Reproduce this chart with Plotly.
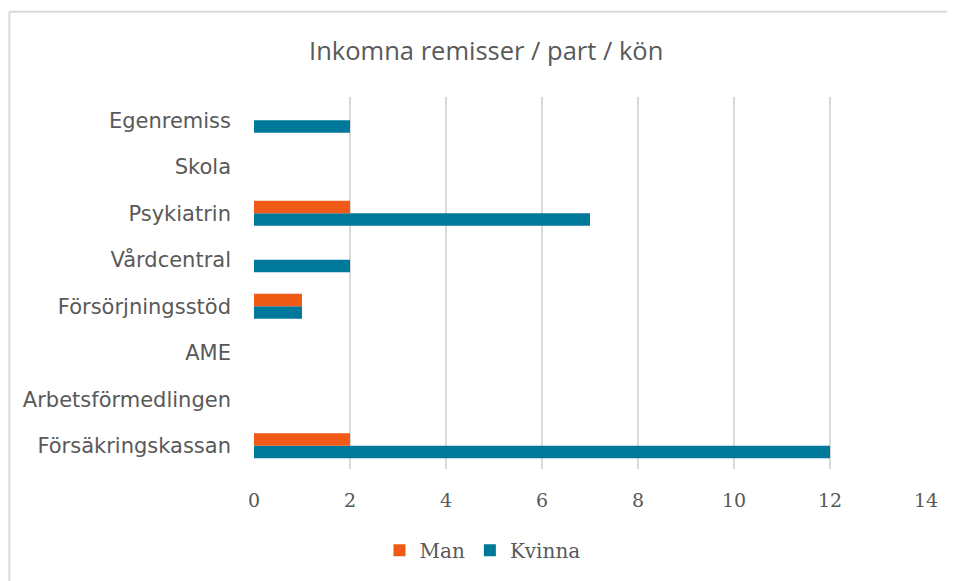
import plotly.graph_objects as go

# Data
kategorier = ['Försäkringskassan', 'Arbetsförmedlingen', 'AME', 'Försörjningsstöd',
              'Vårdcentral', 'Psykiatrin', 'Skola', 'Egenremiss']
man = [2, 0, 0, 1, 0, 2, 0, 0]
kvinna = [12, 0, 0, 1, 2, 7, 0, 2]
x_ticks = [0, 2, 4, 6, 8, 10, 12, 14]

fig = go.Figure()
# Kvinna first so Man sits above it in each group
fig.add_trace(go.Bar(y=kategorier, x=kvinna, name='Kvinna', orientation='h',
                     marker=dict(color='#00789A', line=dict(width=0))))
fig.add_trace(go.Bar(y=kategorier, x=man, name='Man', orientation='h',
                     marker=dict(color='#F05A17', line=dict(width=0))))

fig.update_layout(
    width=947, height=573,
    paper_bgcolor='white', plot_bgcolor='white',
    margin=dict(l=246, r=29, t=89, b=111),
    barmode='group', bargap=0.46, bargroupgap=0,
    title=dict(text='Inkomna remisser / part / kön', x=0.505, xanchor='center',
               y=0.925, yanchor='middle',
               font=dict(family='Open Sans', size=25.5, color='#595959')),
    xaxis=dict(range=[0, 14], tickvals=x_ticks, showgrid=True, gridcolor='#d9d9d9',
               gridwidth=2, zeroline=False, showline=False, ticks='',
               ticklabelstandoff=18,
               tickfont=dict(family='DejaVu Serif', size=19, color='#595959')),
    yaxis=dict(categoryorder='array', categoryarray=kategorier, showgrid=False,
               zeroline=False, showline=False, ticks='', ticklabelstandoff=22,
               range=[-0.5, 7.5],
               tickfont=dict(family='DejaVu Sans', size=21, color='#595959')),
    legend=dict(orientation='h', x=0.34, xanchor='center', y=-0.215, yanchor='middle',
                traceorder='reversed',
                font=dict(family='DejaVu Serif', size=20, color='#595959'),
                itemwidth=30),
    showlegend=True,
    # chart frame (only top and left edges are visible in the window)
    shapes=[
        dict(type='line', xref='paper', yref='paper', x0=-0.364, x1=1.1,
             y0=1.229, y1=1.229, line=dict(color='#d9d9d9', width=2), layer='below'),
        dict(type='line', xref='paper', yref='paper', x0=-0.364, x1=-0.364,
             y0=1.229, y1=-0.4, line=dict(color='#d9d9d9', width=2), layer='below'),
    ],
)

fig.write_html("out.html")
